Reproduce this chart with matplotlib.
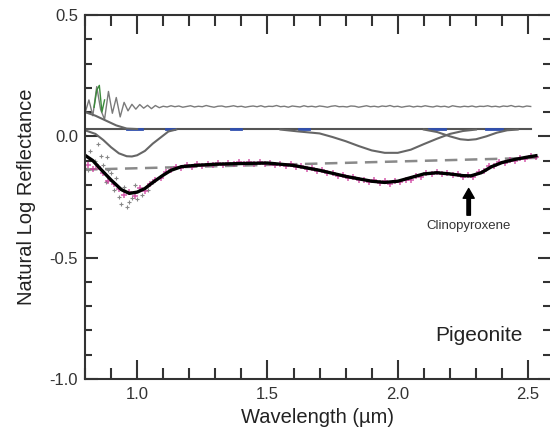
import matplotlib
matplotlib.use('Agg')
import matplotlib.pyplot as plt
import numpy as np
from matplotlib.ticker import MultipleLocator, FormatStrFormatter

plt.rcParams['font.family'] = ['Liberation Sans', 'DejaVu Sans']

# best fit (modified gaussian model)
fit_wl = [0.80, 0.83, 0.86, 0.90, 0.94, 0.97, 1.00, 1.03, 1.06, 1.10, 1.13, 1.17,
          1.22, 1.30, 1.40, 1.50, 1.60, 1.70, 1.80, 1.90, 1.95, 2.00, 2.05, 2.10,
          2.15, 2.20, 2.25, 2.28, 2.32, 2.36, 2.40, 2.45, 2.50, 2.53]
fit_val = [-0.078, -0.100, -0.135, -0.180, -0.220, -0.235, -0.230, -0.215, -0.190,
           -0.160, -0.140, -0.125, -0.120, -0.115, -0.112, -0.110, -0.120, -0.140,
           -0.165, -0.185, -0.190, -0.185, -0.170, -0.155, -0.150, -0.155, -0.162,
           -0.163, -0.150, -0.125, -0.108, -0.095, -0.085, -0.080]

# measured spectrum
data_wl = np.round(np.arange(0.81, 2.54, 0.02), 2)
data_val = [-0.120, -0.135, -0.128, -0.150, -0.185, -0.195, -0.215, -0.240, -0.228,
            -0.245, -0.212, -0.225, -0.196, -0.178, -0.170, -0.148, -0.140, -0.128,
            -0.130, -0.118, -0.126, -0.115, -0.122, -0.112, -0.120, -0.110, -0.118,
            -0.108, -0.116, -0.107, -0.115, -0.106, -0.114, -0.105, -0.113, -0.108,
            -0.117, -0.112, -0.121, -0.115, -0.126, -0.122, -0.133, -0.130, -0.142,
            -0.140, -0.152, -0.150, -0.162, -0.160, -0.170, -0.168, -0.180, -0.178,
            -0.188, -0.182, -0.193, -0.186, -0.195, -0.184, -0.190, -0.178, -0.178,
            -0.165, -0.166, -0.152, -0.156, -0.146, -0.156, -0.150, -0.160, -0.155,
            -0.167, -0.158, -0.166, -0.148, -0.142, -0.122, -0.124, -0.106, -0.110,
            -0.096, -0.100, -0.088, -0.094, -0.080, -0.086]

# noisy points near 1 um
scat_wl = [0.80, 0.81, 0.82, 0.84, 0.85, 0.86, 0.87, 0.88, 0.885, 0.89, 0.90, 0.91,
           0.92, 0.93, 0.94, 0.95, 0.96, 0.97, 0.98, 0.99, 1.00, 1.02, 1.04, 1.06]
scat_val = [-0.13, -0.14, -0.06, -0.10, -0.03, -0.08, -0.12, -0.19, -0.087, -0.14,
            -0.15, -0.22, -0.17, -0.25, -0.28, -0.21, -0.29, -0.27, -0.255, -0.20,
            -0.26, -0.24, -0.22, -0.19]

# continuum
cont_wl = [0.80, 1.60, 2.55]
cont_val = [-0.137, -0.115, -0.088]

# residual (offset)
resid = [0.095, 0.150, 0.085, 0.205, 0.110, 0.070, 0.185, 0.095, 0.160, 0.080,
         0.140, 0.105, 0.132, 0.112, 0.131, 0.116, 0.128, 0.114, 0.127, 0.118,
         0.124, 0.121, 0.126, 0.122, 0.125, 0.120, 0.123, 0.126, 0.121, 0.124,
         0.122, 0.127, 0.123, 0.120, 0.124, 0.125, 0.121, 0.123, 0.126, 0.122,
         0.124, 0.120, 0.123, 0.125, 0.122, 0.126, 0.121, 0.124, 0.123, 0.127,
         0.122, 0.124, 0.120, 0.125, 0.123, 0.121, 0.126, 0.122, 0.124, 0.121,
         0.125, 0.123, 0.120, 0.124, 0.126, 0.122, 0.123, 0.121, 0.125, 0.124,
         0.120, 0.123, 0.126, 0.122, 0.124, 0.121, 0.125, 0.123, 0.127, 0.122,
         0.124, 0.120, 0.123, 0.125, 0.121, 0.124, 0.122, 0.126, 0.123, 0.121,
         0.125, 0.122, 0.124, 0.120, 0.126, 0.123, 0.121, 0.124, 0.122, 0.125,
         0.121, 0.124, 0.123, 0.126, 0.122, 0.124, 0.121, 0.125, 0.123, 0.127,
         0.122, 0.124, 0.121, 0.125, 0.123]
resid_wl = np.linspace(0.80, 2.51, len(resid))
spike_wl = [0.835, 0.845, 0.855, 0.865, 0.875]
spike_val = [0.12, 0.19, 0.21, 0.10, 0.15]

# baseline and individual bands
base_level = 0.03
base_wl = [0.80, 2.51]
blue_segs = [(0.96, 1.02), (1.11, 1.14), (1.36, 1.40), (1.62, 1.66), (2.12, 2.18), (2.34, 2.40)]

uv_wl = [0.80, 0.84, 0.88, 0.92, 0.96, 1.00]
uv_val = [0.100, 0.085, 0.065, 0.045, 0.032, 0.030]
b1_wl = [0.80, 0.84, 0.87, 0.90, 0.93, 0.96, 0.98, 1.00, 1.03, 1.06, 1.09, 1.12, 1.15]
b1_val = [0.025, 0.010, -0.015, -0.045, -0.070, -0.082, -0.083, -0.078, -0.060,
          -0.030, -0.005, 0.020, 0.028]
b2_wl = [1.55, 1.62, 1.70, 1.75, 1.80, 1.85, 1.90, 1.95, 2.00, 2.05, 2.10, 2.15,
         2.20, 2.25, 2.30]
b2_val = [0.028, 0.020, 0.012, -0.003, -0.020, -0.040, -0.058, -0.068, -0.068,
          -0.055, -0.032, -0.010, 0.010, 0.022, 0.028]
b3_wl = [2.10, 2.15, 2.20, 2.24, 2.27, 2.30, 2.34, 2.38, 2.42, 2.46]
b3_val = [0.028, 0.018, 0.000, -0.012, -0.015, -0.012, 0.000, 0.015, 0.025, 0.028]

fig = plt.figure(figsize=(5.5, 4.29), dpi=100)
ax = fig.add_axes([85 / 550, 1 - 379 / 429, 1 - 85 / 550, (379 - 15) / 429])

ax.plot(resid_wl, resid, color='#7a7a7a', lw=1.0)
ax.plot(spike_wl, spike_val, color='#3a8a3a', lw=1.0)

ax.plot(base_wl, [base_level, base_level], color='#555555', lw=1.5)
for a, b in blue_segs:
    ax.plot([a, b], [base_level, base_level], color='#2f4fb0', lw=2.0)
for wl, val in [(uv_wl, uv_val), (b1_wl, b1_val), (b2_wl, b2_val), (b3_wl, b3_val)]:
    ax.plot(wl, val, color='#666666', lw=1.5)

ax.plot(cont_wl, cont_val, color='#8a8a8a', lw=1.8, dashes=(5, 3))
ax.plot(scat_wl, scat_val, '+', color='#888888', ms=3.5, mew=0.8)
ax.plot(data_wl, data_val, '+', color='#cc3399', ms=4.5, mew=1.1, alpha=0.8)
ax.plot(fit_wl, fit_val, color='black', lw=2.4)

ax.annotate('', xy=(2.272, -0.215), xytext=(2.272, -0.325),
            arrowprops=dict(width=2.5, headwidth=8, headlength=7, color='black'))
ax.text(2.272, -0.37, 'Clinopyroxene', fontsize=9.5, ha='center', va='center', color='#333333')
ax.text(2.31, -0.82, 'Pigeonite', fontsize=15, ha='center', va='center', color='#222222')

ax.set_xlim(0.8, 2.584)
ax.set_ylim(-1.0, 0.5)
ax.xaxis.set_major_locator(MultipleLocator(0.5))
ax.xaxis.set_minor_locator(MultipleLocator(0.1))
ax.yaxis.set_major_locator(MultipleLocator(0.5))
ax.yaxis.set_minor_locator(MultipleLocator(0.1))
ax.xaxis.set_major_formatter(FormatStrFormatter('%.1f'))
ax.yaxis.set_major_formatter(FormatStrFormatter('%.1f'))

ax.tick_params(axis='x', which='both', direction='in', top=True, bottom=True,
               width=1.5, color='#333333', labelsize=12, labelcolor='#333333', pad=6)
ax.tick_params(axis='x', which='major', length=14)
ax.tick_params(axis='x', which='minor', length=8)
ax.tick_params(axis='y', which='both', direction='in', left=True, right=True,
               width=1.5, color='#333333', labelsize=12, labelcolor='#333333', pad=5)
ax.tick_params(axis='y', which='major', length=9)
ax.tick_params(axis='y', which='minor', length=5)

for side in ['left', 'bottom', 'top']:
    ax.spines[side].set_color('#333333')
    ax.spines[side].set_linewidth(1.5)
ax.spines['right'].set_visible(False)

ax.set_xlabel('Wavelength (\u00b5m)', fontsize=14.5, color='#222222', labelpad=4)
ax.set_ylabel('Natural Log Reflectance', fontsize=14.5, color='#222222', labelpad=10)

fig.savefig('out.png', dpi=100)
